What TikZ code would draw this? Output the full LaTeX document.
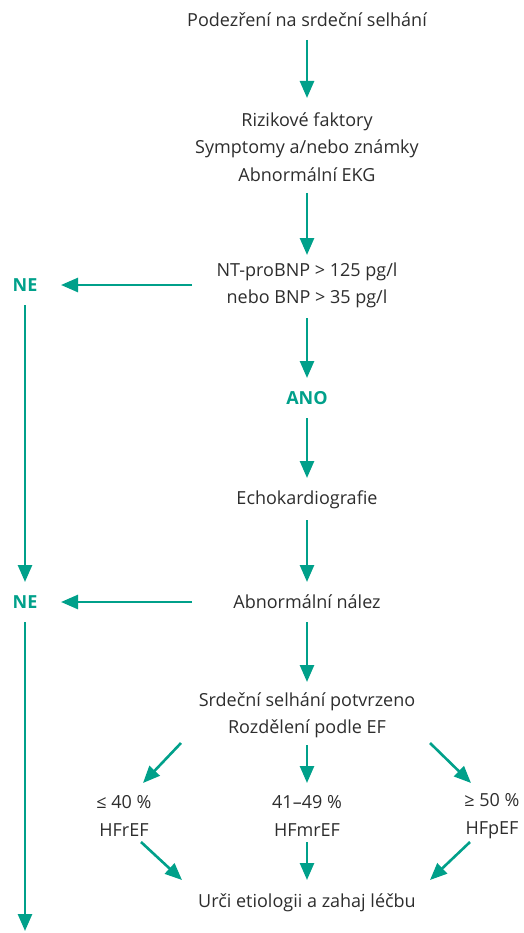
\documentclass[tikz,border=0pt]{standalone}
\usepackage{fontspec}
\setmainfont{Open Sans}
\usetikzlibrary{arrows.meta,calc}
\definecolor{teal}{RGB}{0,160,138}
\definecolor{txtgray}{RGB}{45,45,45}
\tikzset{
  txt/.style={inner sep=0pt, align=center, text=txtgray, font=\fontsize{18}{27.5}\selectfont},
  lbl/.style={inner sep=0pt, align=center, text=teal, font=\fontsize{18}{27.5}\selectfont\bfseries},
  arr/.style={draw=teal, line width=2.6pt, -{Triangle[length=17pt,width=14pt]}}
}
\begin{document}
\begin{tikzpicture}[x=1pt,y=-1pt]
\useasboundingbox (0,0) rectangle (523,933);
\node[txt] (a) at (307,20) {Podezření na srdeční selhání};
\node[txt] (b) at (307,147) {Rizikové faktory\\Symptomy a/nebo známky\\Abnormální EKG};
\node[txt] (c) at (307,285.5) {NT-proBNP > 125 pg/l\\nebo BNP > 35 pg/l};
\node[lbl] (ano) at (307,398) {ANO};
\node[txt] (echo) at (307,500) {Echokardiografie};
\node[txt] (abn) at (307,602) {Abnormální nález};
\node[txt] (conf) at (307,715.5) {Srdeční selhání potvrzeno\\Rozdělení podle EF};
\node[txt] (ef1) at (124,816) {≤ 40 \%\\HFrEF};
\node[txt] (ef2) at (307,816) {41–49 \%\\HFmrEF};
\node[txt] (ef3) at (492,816) {≥ 50 \%\\HFpEF};
\node[txt] (fin) at (307,903) {Urči etiologii a zahaj léčbu};
\node[lbl] (ne1) at (25,285) {NE};
\node[lbl] (ne2) at (25,602) {NE};
\coordinate (end) at (25,931);

\draw[arr] ($(a.center)+(0,20)$) -- ($(b.center)+(0,-49)$);
\draw[arr] ($(b.center)+(0,46)$) -- ($(c.center)+(0,-30.5)$);
\draw[arr] ($(c.center)+(0,32.5)$) -- ($(ano.center)+(0,-20)$);
\draw[arr] ($(ano.center)+(0,20)$) -- ($(echo.center)+(0,-22)$);
\draw[arr] ($(echo.center)+(0,20)$) -- ($(abn.center)+(0,-20)$);
\draw[arr] ($(abn.center)+(0,20)$) -- ($(conf.center)+(0,-33.5)$);
\draw[arr] ($(c.center)+(-115,-0.5)$) -- ($(ne1.center)+(36,0)$);
\draw[arr] ($(abn.center)+(-115,0)$) -- ($(ne2.center)+(36,0)$);
\draw[arr] ($(ne1.center)+(0,20)$) -- ($(ne2.center)+(0,-20)$);
\draw[arr] ($(ne2.center)+(0,20)$) -- (end);
\draw[arr] ($(conf.center)+(-126,27.5)$) -- ($(ef1.center)+(19,-33)$);
\draw[arr] ($(conf.center)+(0,29.5)$) -- ($(ef2.center)+(0,-33)$);
\draw[arr] ($(conf.center)+(123,27.5)$) -- ($(ef3.center)+(-21,-33)$);
\draw[arr] ($(ef1.center)+(17,26)$) -- ($(fin.center)+(-125,-23)$);
\draw[arr] ($(ef2.center)+(0,26)$) -- ($(fin.center)+(0,-23)$);
\draw[arr] ($(ef3.center)+(-22,26)$) -- ($(fin.center)+(123,-23)$);
\end{tikzpicture}
\end{document}
